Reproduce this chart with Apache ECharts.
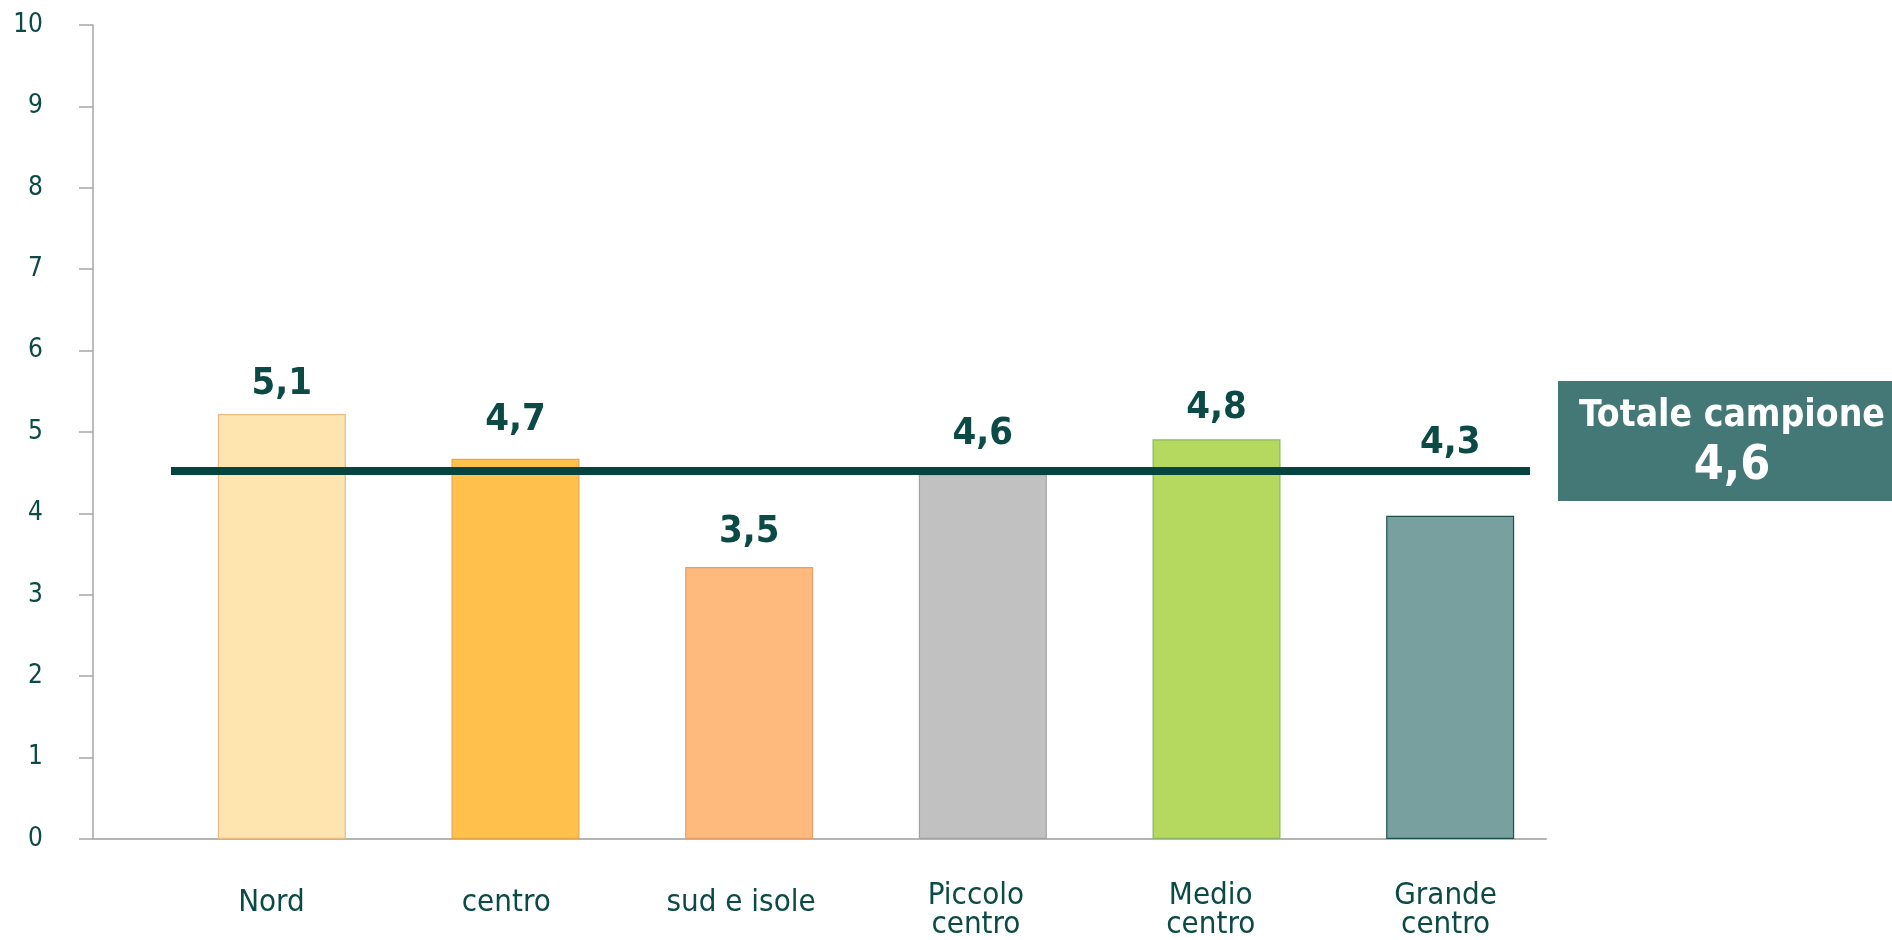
<!DOCTYPE html>
<html>
<head>
<meta charset="utf-8">
<style>
    html, body { margin: 0; padding: 0; background: #ffffff; }
    #chart { width: 1892px; height: 940px; }
</style>
<script src="https://cdn.jsdelivr.net/npm/echarts@6/dist/echarts.min.js"></script>
</head>
<body>
<div id="chart"></div>
<script>
    // data
    const categories = ['Nord', 'centro', 'sud e isole', 'Piccolo\ncentro', 'Medio\ncentro', 'Grande\ncentro'];
    const barValues = [5.22, 4.67, 3.34, 4.48, 4.91, 3.97];
    const barLabels = ['5,1', '4,7', '3,5', '4,6', '4,8', '4,3'];
    const totalValue = 4.52;
    const totalLabel = '4,6';
    const totalTitle = 'Totale campione';
    const yTicks = [0, 1, 2, 3, 4, 5, 6, 7, 8, 9, 10];

    const font = '"DejaVu Sans Condensed", "DejaVu Sans", sans-serif';
    const textColor = '#0b4a45';
    const barColors = ['#fee4ae', '#ffc14c', '#feb97c', '#c1c1c1', '#b5d95f', '#77a09e'];
    const barBorders = ['#e9bb85', '#e8a64e', '#e6a070', '#a3a3a3', '#8db565', '#1f504c'];
    const labelDist = [11, 20, 16, 21, 12, 54];

    const chart = echarts.init(document.getElementById('chart'));
    const option = {
        animation: false,
        backgroundColor: '#ffffff',
        grid: [
            { left: 93, right: 346, top: 25, bottom: 101 },   // frame with the axes
            { left: 165, right: 325, top: 25, bottom: 101 },  // bars
            { left: 171, right: 362, top: 25, bottom: 101 },  // total line
            { left: 154, right: 329, top: 25, bottom: 101 }   // category names
        ],
        xAxis: [
            {
                gridIndex: 0, type: 'value', min: 0, max: 1,
                axisLine: { show: true, lineStyle: { color: '#b4b4b4', width: 2 } },
                axisTick: { show: false }, axisLabel: { show: false }, splitLine: { show: false }
            },
            {
                gridIndex: 1, type: 'category', data: categories,
                axisLine: { show: false }, axisTick: { show: false }, axisLabel: { show: false }
            },
            {
                gridIndex: 2, type: 'value', min: 0, max: 1, show: false
            },
            {
                gridIndex: 3, type: 'category', data: categories,
                axisLine: { show: false }, axisTick: { show: false },
                axisLabel: {
                    color: textColor, fontFamily: font, fontSize: 31, lineHeight: 29,
                    margin: 72, verticalAlign: 'middle', interval: 0,
                    formatter: v => v.indexOf('\n') >= 0 ? v : '{s|' + v + '}',
                    rich: { s: { color: textColor, fontFamily: font, fontSize: 31, lineHeight: 29, padding: [0, 0, 15, 0] } }
                }
            }
        ],
        yAxis: [
            {
                gridIndex: 0, type: 'value', min: yTicks[0], max: yTicks[yTicks.length - 1], interval: 1,
                axisLine: { show: true, lineStyle: { color: '#a6a6a6', width: 1.5 } },
                axisTick: { show: true, length: 14, lineStyle: { color: '#a6a6a6', width: 1.5 } },
                axisLabel: { color: textColor, fontFamily: font, fontSize: 26, margin: 50, align: 'right' },
                splitLine: { show: false }
            },
            { gridIndex: 1, type: 'value', min: 0, max: 10, show: false },
            { gridIndex: 2, type: 'value', min: 0, max: 10, show: false },
            { gridIndex: 3, type: 'value', min: 0, max: 10, show: false }
        ],
        series: [
            {
                type: 'bar',
                xAxisIndex: 1, yAxisIndex: 1,
                barWidth: 128,
                data: barValues.map((v, i) => ({
                    value: v,
                    itemStyle: { color: barColors[i], borderColor: barBorders[i], borderWidth: 1.2 },
                    label: {
                        show: true, position: 'top', distance: labelDist[i],
                        formatter: barLabels[i],
                        color: textColor, fontFamily: font, fontSize: 38, fontWeight: 'bold'
                    }
                }))
            },
            {
                type: 'line',
                xAxisIndex: 2, yAxisIndex: 2,
                symbol: 'none',
                lineStyle: { color: '#05443f', width: 8 },
                data: [[0, totalValue], [1, totalValue]],
                endLabel: {
                    show: true,
                    distance: 28,
                    offset: [0, -30],
                    formatter: '{t|' + totalTitle + '}\n{v|' + totalLabel + '}',
                    backgroundColor: '#437876',
                    padding: [12, 0, 8, 0],
                    width: 348,
                    rich: {
                        t: { color: '#ffffff', fontFamily: font, fontSize: 37, fontWeight: 'bold', lineHeight: 46, width: 348, align: 'center' },
                        v: { color: '#ffffff', fontFamily: font, fontSize: 48, fontWeight: 'bold', lineHeight: 54, width: 348, align: 'center' }
                    }
                }
            }
        ]
    };
    chart.setOption(option);
</script>
</body>
</html>
